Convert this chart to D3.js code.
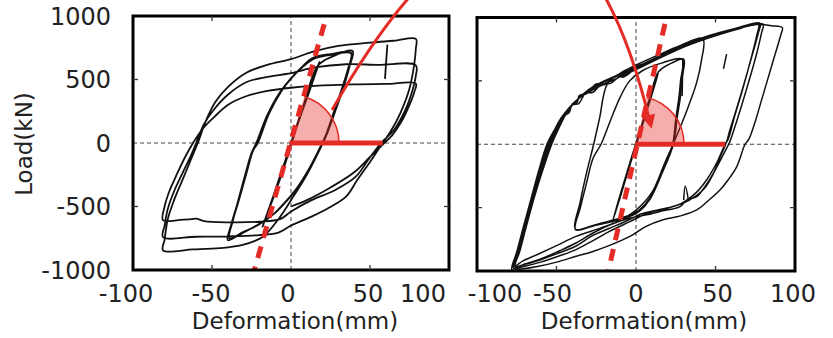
<!DOCTYPE html>
<html><head><meta charset="utf-8">
<script src="https://cdn.jsdelivr.net/npm/d3@7"></script>
<style>
html,body{margin:0;padding:0;background:#fff;}
svg{display:block;}
text{font-family:"DejaVu Sans",sans-serif;fill:#222;}
</style></head><body>
<svg id="c" width="833" height="338"></svg>
<script>
// ---- tick labels / axes ----
const xTicks = [-100, -50, 0, 50, 100];
const yTicks = [-1000, -500, 0, 500, 1000];
const xInnerTicks = [-50, 50];
const yInnerTicks = [-500, 500];
const xTitle = "Deformation(mm)";
const yTitle = "Load(kN)";

// ---- left specimen: [deformation mm, load kN] ----
const leftPath = [
[0,0],[9,330],[18,640],[12,420],[4,140],[-6,-250],[-18,-660],[-11,-410],[-2,-80],[8,300],[17,610],
[26,680],[39,725],
[37,600],[33,430],[28,250],[23,80],[20,0],[13,-180],[5,-340],[-3,-460],[-10,-550],[-20,-635],[-30,-705],[-40,-765],
[-38,-650],[-34,-480],[-29,-250],[-25,-80],[-22,0],[-15,220],[-7,400],[0,510],[7,600],[14,670],[25,700],[38,712],
[36,580],[32,420],[27,240],[22,60],[19,-20],[12,-190],[4,-350],[-4,-470],[-11,-560],[-20,-640],[-30,-700],[-39,-750],
[-37,-620],[-33,-450],[-28,-230],[-24,-60],[-21,0],[-14,230],[-6,410],[1,520],[8,605],[15,665],[26,695],[38,705],
[36,570],[32,410],[27,230],[22,50],[19,-30],[10,-250],[0,-450],[-8,-600],[-18,-740],[-30,-800],[-45,-828],[-62,-838],[-81,-845],
[-80,-760],[-78,-600],[-74,-450],[-69,-300],[-64,-150],[-59,0],[-54,170],[-48,320],[-40,440],[-28,555],[-15,615],[0,660],[14,720],[30,765],[50,790],[65,805],[79,820],
[79,740],[78,620],[75,430],[69,230],[63,90],[58,0],[50,-150],[42,-290],[35,-420],[24,-510],[13,-580],[0,-650],[-8,-705],[-20,-725],[-40,-735],[-60,-738],[-81,-740],
[-80,-650],[-78,-520],[-74,-380],[-68,-220],[-63,-90],[-60,0],[-55,150],[-49,260],[-40,380],[-28,480],[-15,520],[0,550],[15,595],[35,620],[55,615],[79,612],
[79,530],[77,420],[72,250],[65,100],[57,0],[49,-130],[41,-265],[28,-370],[13,-450],[0,-540],[-7,-600],[-20,-620],[-40,-625],[-55,-615],[-60,-595],[-63,-600],[-70,-605],[-81,-608],
[-80,-500],[-77,-380],[-72,-240],[-67,-110],[-62,0],[-56,110],[-49,200],[-40,300],[-28,370],[-15,410],[0,435],[15,450],[40,462],[60,465],[79,468],
[78,400],[75,300],[70,170],[64,60],[59,0],[50,-110],[40,-230],[25,-350],[10,-450],[0,-500]
];
const leftSpikes = [
[[61,775],[60,600],[59.5,505]]
];

// ---- right specimen ----
const rightPath = [
[0,0],[5,200],[10,400],[14,560],[10,390],[4,150],[-3,-130],[-9,-380],[-15,-620],[-10,-400],[-3,-110],[4,170],[9,380],[14,570],
[20,625],[30,670],
[29,520],[28,380],[26,220],[23.5,0],[16,-240],[9,-430],[2,-530],[-4,-570],[-15,-610],[-27,-645],[-38,-675],
[-35,-500],[-31,-300],[-27,-110],[-22,0],[-16,190],[-10,370],[-4,500],[4,580],[16,640],[29,670],
[28,500],[27,370],[25,200],[23,0],[16,-230],[9,-420],[2,-520],[-4,-560],[-15,-600],[-27,-640],[-38,-670],
[-35,-450],[-31,-220],[-27,-20],[-23,200],[-18,476],[-10,560],[0,625],[15,710],[28,780],[42,835],
[41,650],[38,480],[33,300],[28,140],[24,20],[18,-150],[10,-380],[0,-520],[-10,-600],[-22,-660],[-37.7,-727],[-50,-800],[-62,-870],[-71,-920],[-77,-965],
[-74,-830],[-70,-650],[-65,-430],[-59,-190],[-54,0],[-49,130],[-45,227],[-42,250],[-40,320],[-37,330],[-35.7,384],[-31,400],[-25,476],[-20,470],[-12.6,541],[-8,530],[0,600],[10,660],[21,737],[42,841],[63,915],[78,955],
[77,880],[73,700],[68,480],[63,270],[59,110],[57,20],[53,-100],[48.6,-230],[43,-340],[38.2,-413],[32,-440],[27.7,-492],[15,-530],[6.7,-557],[-3.8,-583],[-17,-640],[-27,-700],[-37.7,-779],[-48,-840],[-60,-905],[-70,-945],[-76,-970],
[-73,-840],[-69,-650],[-64,-420],[-58,-180],[-53,0],[-48,140],[-44,240],[-38,340],[-30,430],[-20,500],[-8,565],[2,620],[12,680],[25,750],[45,845],[62,905],[74,940],[80,948],
[79,880],[76,720],[72,540],[67,330],[62,130],[59,20],[55,-80],[50,-200],[43,-350],[33,-445],[20,-505],[8,-540],[-3.8,-610],[-17,-690],[-27,-760],[-37.7,-831],[-48,-880],[-60,-930],[-70,-962],[-77,-978],
[-74,-840],[-70,-650],[-65,-420],[-60,-190],[-55,0],[-50,120],[-46,220],[-43,240],[-40,310],[-36,320],[-32,400],[-27,410],[-22,470],[-16,480],[-10,540],[0,600],[12,670],[25,745],[45,840],[65,915],[76,945],[85,935],[92,920],
[91,860],[87,690],[83,520],[79,350],[75,180],[71,40],[68.6,0],[63.3,-178],[58,-280],[52.8,-361],[45,-450],[38.2,-518],[28,-565],[17,-596],[6,-650],[-3.8,-727],[-17,-800],[-28,-850],[-37.7,-884],[-50,-930],[-62,-965],[-72,-985],[-78,-992],
[-75,-850],[-71,-660],[-66,-430],[-61,-200],[-56,0],[-51,120],[-47,210],[-41,300],[-34,380],[-24,450],[-12,520],[0,590],[10,650],[25,740],[45,835],[63,905],[77,948],
[76,860],[72,660],[67,430],[62,220],[58,40],[56,0],[51,-140],[45,-270],[38,-380],[28,-470],[15,-515],[3,-550],[-5,-600],[-17,-665],[-28,-725],[-38,-805],[-50,-865],[-62,-920],[-71,-952],[-76,-962],
[-73,-830],[-69,-640],[-64,-410],[-59,-180],[-54,0],[-49,140],[-45,240],[-39,330],[-30,420],[-20,490],[-9,555],[0,615],[8,650]
];
const rightSpikes = [
[[57,711],[55,594]],
[[29.5,680],[29,380]],
[[33,-445],[31,-330],[30,-440]]
];

// ---- red annotations (data coordinates of each panel) ----
const leftDash = [[21,935],[-23.2,-1000]];
const rightDash = [[18.2,950],[-17.4,-1000]];
const leftRef = [[-1,0],[58,0]];
const rightRef = [[-0.5,0],[56,0]];
const arrowStartLeft = [26,260];
const arrowCtrlLeft = [115,2200];
const arrowCtrlRight = [-29,2150];
const arrowEndRight = [9,165];

const RED = "#e52b25";
const svg = d3.select("#c");

const defs = svg.append("defs");
defs.append("marker").attr("id","ah").attr("viewBox","0 -5 10 10")
  .attr("refX",6).attr("refY",0).attr("markerUnits","userSpaceOnUse")
  .attr("markerWidth",14).attr("markerHeight",14).attr("orient","auto")
  .append("path").attr("d","M0,-5L10,0L0,5Z").attr("fill",RED);

const panels = [
 {data:leftPath, spikes:leftSpikes, dash:leftDash, ref:leftRef, box:[133,449,270,16], sw:1.8,
  shift:{"-100":-7,"-50":-1,"0":-3,"50":-2,"100":-26}, yLabels:true, titleDx:4},
 {data:rightPath, spikes:rightSpikes, dash:rightDash, ref:rightRef, box:[477,795,271,17.5], sw:1.5,
  shift:{"-100":18,"-50":-4,"0":0,"50":2,"100":-2}, yLabels:false, titleDx:8}
];

panels.forEach(p => {
  p.x = d3.scaleLinear().domain([-100,100]).range([p.box[0],p.box[1]]);
  p.y = d3.scaleLinear().domain([-1000,1000]).range([p.box[2],p.box[3]]);
});

panels.forEach(p => {
  const x = p.x, y = p.y;
  const g = svg.append("g");
  g.append("line").attr("x1",x(-100)).attr("x2",x(100)).attr("y1",y(0)).attr("y2",y(0))
    .attr("stroke","#444").attr("stroke-width",1).attr("stroke-dasharray","4,3");
  g.append("line").attr("x1",x(0)).attr("x2",x(0)).attr("y1",y(-1000)).attr("y2",y(1000))
    .attr("stroke","#444").attr("stroke-width",1).attr("stroke-dasharray","4,3");

  const line = d3.line().x(d=>x(d[0])).y(d=>y(d[1])).curve(d3.curveCatmullRom.alpha(0.5));
  g.append("path").attr("d",line(p.data)).attr("fill","none").attr("stroke","#111")
    .attr("stroke-width",p.sw).attr("stroke-linejoin","round");
  p.spikes.forEach(s => g.append("path").attr("d",line(s)).attr("fill","none")
    .attr("stroke","#111").attr("stroke-width",p.sw));

  const cx = x(0), cy = y(0);
  const dx = x(p.dash[0][0]) - x(p.dash[1][0]);
  const dy = y(p.dash[1][1]) - y(p.dash[0][1]);
  const th = Math.atan2(dy, dx);
  const R = 48;
  const wedge = d3.arc().innerRadius(0).outerRadius(R).startAngle(Math.PI/2 - th).endAngle(Math.PI/2);
  g.append("path").attr("d",wedge()).attr("transform",`translate(${cx},${cy})`)
    .attr("fill",RED).attr("fill-opacity",0.38);
  const ap = d3.path();
  ap.moveTo(cx + R*Math.cos(-th), cy + R*Math.sin(-th));
  ap.arc(cx, cy, R, -th, 0);
  g.append("path").attr("d",ap.toString()).attr("fill","none").attr("stroke",RED).attr("stroke-width",1.5);

  g.append("line").attr("x1",x(p.ref[0][0])).attr("x2",x(p.ref[1][0]))
    .attr("y1",y(p.ref[0][1])).attr("y2",y(p.ref[1][1]))
    .attr("stroke",RED).attr("stroke-width",5);
  g.append("line").attr("x1",x(p.dash[0][0])).attr("y1",y(p.dash[0][1]))
    .attr("x2",x(p.dash[1][0])).attr("y2",y(p.dash[1][1]))
    .attr("stroke",RED).attr("stroke-width",5).attr("stroke-dasharray","12,9");

  g.append("rect").attr("x",x(-100)).attr("y",y(1000)).attr("width",x(100)-x(-100))
    .attr("height",y(-1000)-y(1000)).attr("fill","none").attr("stroke","#000").attr("stroke-width",3);
  xInnerTicks.forEach(v => {
    g.append("line").attr("x1",x(v)).attr("x2",x(v)).attr("y1",y(1000)).attr("y2",y(1000)+5).attr("stroke","#333").attr("stroke-width",1.3);
    g.append("line").attr("x1",x(v)).attr("x2",x(v)).attr("y1",y(-1000)).attr("y2",y(-1000)-5).attr("stroke","#333").attr("stroke-width",1.3);
  });
  yInnerTicks.forEach(v => {
    g.append("line").attr("x1",x(-100)).attr("x2",x(-100)+5).attr("y1",y(v)).attr("y2",y(v)).attr("stroke","#333").attr("stroke-width",1.3);
    g.append("line").attr("x1",x(100)).attr("x2",x(100)-5).attr("y1",y(v)).attr("y2",y(v)).attr("stroke","#333").attr("stroke-width",1.3);
  });

  g.selectAll(".xl").data(xTicks).enter().append("text")
    .attr("x", d => x(d) + (p.shift[String(d)]||0)).attr("y", 302)
    .attr("text-anchor","middle").style("font-size","24px").text(d => String(d));
  if (p.yLabels) {
    g.selectAll(".yl").data(yTicks).enter().append("text")
      .attr("x", 111).attr("y", d => y(d)).attr("dy","0.37em")
      .attr("text-anchor","end").style("font-size","24px").text(d => String(d));
    svg.append("text").attr("transform",`translate(32,${y(0)+1}) rotate(-90)`)
      .attr("text-anchor","middle").style("font-size","23px").text(yTitle);
  }
  svg.append("text").attr("x",(x(-100)+x(100))/2 + p.titleDx).attr("y",329)
    .attr("text-anchor","middle").style("font-size","23px").text(xTitle);
});

const L = panels[0], Rp = panels[1];
const cp = d3.path();
cp.moveTo(L.x(arrowStartLeft[0]), L.y(arrowStartLeft[1]));
cp.bezierCurveTo(L.x(arrowCtrlLeft[0]), L.y(arrowCtrlLeft[1]),
  Rp.x(arrowCtrlRight[0]), Rp.y(arrowCtrlRight[1]),
  Rp.x(arrowEndRight[0]), Rp.y(arrowEndRight[1]));
svg.append("path").attr("d",cp.toString()).attr("fill","none").attr("stroke",RED)
  .attr("stroke-width",3).attr("marker-end","url(#ah)");
</script>
</body></html>
